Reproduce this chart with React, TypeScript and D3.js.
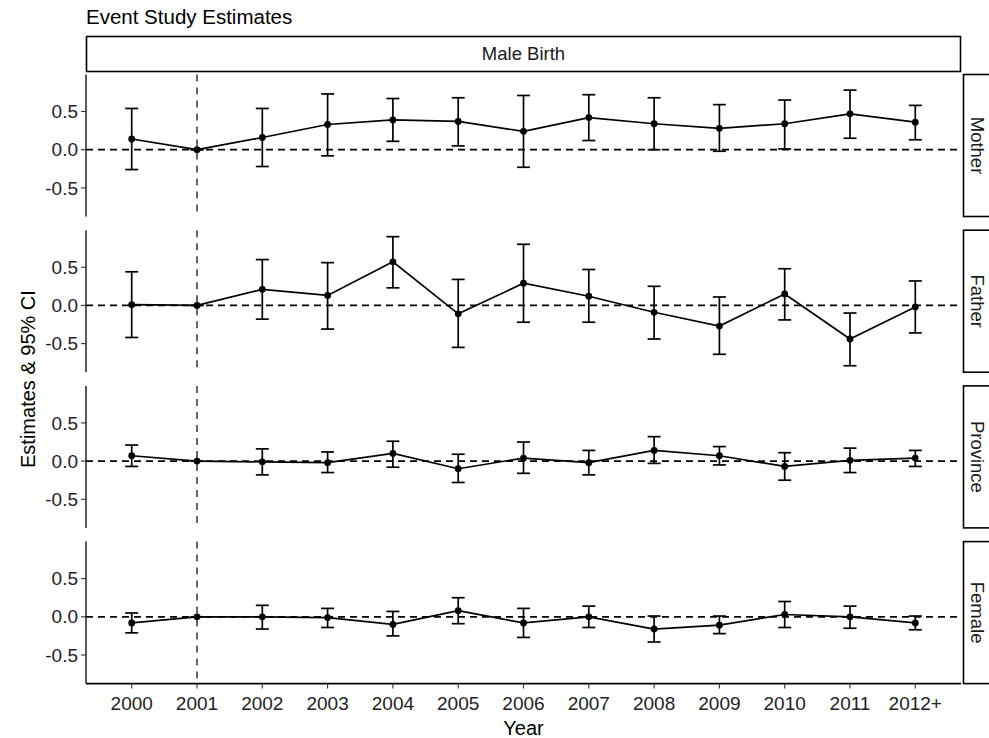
import React, { useRef, useEffect } from "react"
import * as d3 from "d3"

// categories
const years = ["2000", "2001", "2002", "2003", "2004", "2005", "2006", "2007", "2008", "2009", "2010", "2011", "2012+"]
const panels = ["Mother", "Father", "Province", "Female"]
const yTicks = [-0.5, 0, 0.5]

// estimates and 95% CI bounds
const motherEst = [0.14, 0, 0.16, 0.33, 0.39, 0.37, 0.24, 0.42, 0.34, 0.28, 0.34, 0.47, 0.36]
const motherLo = [-0.26, 0, -0.22, -0.08, 0.11, 0.05, -0.23, 0.12, 0.0, -0.02, 0.01, 0.15, 0.13]
const motherHi = [0.54, 0, 0.54, 0.73, 0.67, 0.68, 0.71, 0.72, 0.68, 0.59, 0.65, 0.78, 0.58]

const fatherEst = [0.01, 0, 0.21, 0.13, 0.57, -0.11, 0.29, 0.12, -0.09, -0.27, 0.15, -0.44, -0.02]
const fatherLo = [-0.42, 0, -0.18, -0.31, 0.23, -0.55, -0.22, -0.22, -0.44, -0.64, -0.19, -0.79, -0.36]
const fatherHi = [0.44, 0, 0.6, 0.56, 0.9, 0.34, 0.8, 0.47, 0.25, 0.11, 0.48, -0.1, 0.32]

const provinceEst = [0.07, 0, -0.01, -0.02, 0.1, -0.1, 0.04, -0.02, 0.14, 0.07, -0.07, 0.01, 0.04]
const provinceLo = [-0.07, 0, -0.18, -0.15, -0.08, -0.28, -0.16, -0.18, -0.03, -0.05, -0.25, -0.15, -0.07]
const provinceHi = [0.21, 0, 0.16, 0.12, 0.26, 0.09, 0.25, 0.14, 0.32, 0.19, 0.11, 0.17, 0.14]

const femaleEst = [-0.08, 0, 0.0, -0.01, -0.1, 0.08, -0.08, 0.0, -0.16, -0.11, 0.03, 0.0, -0.08]
const femaleLo = [-0.21, 0, -0.16, -0.14, -0.25, -0.09, -0.27, -0.14, -0.33, -0.22, -0.14, -0.15, -0.17]
const femaleHi = [0.05, 0, 0.15, 0.11, 0.07, 0.25, 0.11, 0.14, 0.01, 0.01, 0.2, 0.14, 0.01]

const series = [
  { est: motherEst, lo: motherLo, hi: motherHi },
  { est: fatherEst, lo: fatherLo, hi: fatherHi },
  { est: provinceEst, lo: provinceLo, hi: provinceHi },
  { est: femaleEst, lo: femaleLo, hi: femaleHi },
]

const FONT = "'Liberation Sans', Arial, Helvetica, sans-serif"

export default function App() {
  const el = useRef<SVGSVGElement>(null)

  useEffect(function () {
    const W = 989
    const H = 738
    const left = 86
    const right = 961
    const panelTop = 74.5
    const panelH = 142
    const panelStep = 155.7

    const svg = d3.select(el.current)
    svg.selectAll("*").remove()
    svg.attr("width", W).attr("height", H)

    svg.append("rect").attr("width", W).attr("height", H).attr("fill", "white")

    const x = d3.scalePoint<string>().domain(years).range([left, right]).padding(0.7)

    // shared y domain, with ggplot's 5% expansion
    const allVals = series.flatMap(s => [...s.lo, ...s.hi, ...s.est])
    const [mn, mx] = d3.extent(allVals) as [number, number]
    const pad = (mx - mn) * 0.05

    // title
    svg.append("text")
      .attr("x", left).attr("y", 24)
      .attr("font-family", FONT).attr("font-size", 20.5)
      .attr("fill", "#000")
      .text("Event Study Estimates")

    // top strip
    svg.append("rect")
      .attr("x", left + 0.5).attr("y", 36.5)
      .attr("width", right - left - 1).attr("height", 35)
      .attr("fill", "white").attr("stroke", "#000").attr("stroke-width", 1.6)
    svg.append("text")
      .attr("x", (left + right) / 2).attr("y", 54)
      .attr("dy", "0.35em")
      .attr("text-anchor", "middle")
      .attr("font-family", FONT).attr("font-size", 18.5)
      .attr("fill", "#1a1a1a")
      .text("Male Birth")

    panels.forEach((name, i) => {
      const top = panelTop + i * panelStep
      const bottom = top + panelH
      const y = d3.scaleLinear().domain([mn - pad, mx + pad]).range([bottom, top])
      const s = series[i]
      const g = svg.append("g")

      // reference lines
      g.append("line")
        .attr("x1", left).attr("x2", right)
        .attr("y1", y(0)).attr("y2", y(0))
        .attr("stroke", "#000").attr("stroke-width", 1.8)
        .attr("stroke-dasharray", "7,5")
      g.append("line")
        .attr("x1", x("2001")!).attr("x2", x("2001")!)
        .attr("y1", top).attr("y2", bottom)
        .attr("stroke", "#000").attr("stroke-width", 1.2)
        .attr("stroke-dasharray", "7,6")

      // connecting line
      const line = d3.line<number>()
        .x((_, j) => x(years[j])!)
        .y(d => y(d))
      g.append("path")
        .attr("d", line(s.est))
        .attr("fill", "none").attr("stroke", "#000").attr("stroke-width", 1.7)

      // error bars
      const capW = 6.5
      years.forEach((yr, j) => {
        const cx = x(yr)!
        g.append("line")
          .attr("x1", cx).attr("x2", cx)
          .attr("y1", y(s.lo[j])).attr("y2", y(s.hi[j]))
          .attr("stroke", "#000").attr("stroke-width", 1.7)
        ;[s.lo[j], s.hi[j]].forEach(v => {
          g.append("line")
            .attr("x1", cx - capW).attr("x2", cx + capW)
            .attr("y1", y(v)).attr("y2", y(v))
            .attr("stroke", "#000").attr("stroke-width", 1.7)
        })
      })

      // points
      g.selectAll("circle.pt").data(s.est).enter()
        .append("circle")
        .attr("cx", (_, j) => x(years[j])!)
        .attr("cy", d => y(d))
        .attr("r", 3.4)
        .attr("fill", "#000")

      // left axis
      g.append("line")
        .attr("x1", left).attr("x2", left)
        .attr("y1", top).attr("y2", bottom)
        .attr("stroke", "#000").attr("stroke-width", 1.3)
      yTicks.forEach(t => {
        g.append("line")
          .attr("x1", left - 5).attr("x2", left)
          .attr("y1", y(t)).attr("y2", y(t))
          .attr("stroke", "#333").attr("stroke-width", 1.1)
        g.append("text")
          .attr("x", left - 8).attr("y", y(t))
          .attr("dy", "0.35em")
          .attr("text-anchor", "end")
          .attr("font-family", FONT).attr("font-size", 19)
          .attr("fill", "#222")
          .text(d3.format(".1f")(t).replace("−", "-"))
      })

      // right strip
      g.append("rect")
        .attr("x", 963.5).attr("y", top)
        .attr("width", 40).attr("height", panelH)
        .attr("fill", "white").attr("stroke", "#000").attr("stroke-width", 1.6)
      g.append("text")
        .attr("transform", `translate(${977},${(top + bottom) / 2}) rotate(90)`)
        .attr("dy", "0.35em")
        .attr("text-anchor", "middle")
        .attr("font-family", FONT).attr("font-size", 18.5)
        .attr("fill", "#1a1a1a")
        .text(name)

      // bottom axis on last panel
      if (i === panels.length - 1) {
        g.append("line")
          .attr("x1", left).attr("x2", right)
          .attr("y1", bottom).attr("y2", bottom)
          .attr("stroke", "#000").attr("stroke-width", 1.6)
        years.forEach(yr => {
          g.append("line")
            .attr("x1", x(yr)!).attr("x2", x(yr)!)
            .attr("y1", bottom).attr("y2", bottom + 5)
            .attr("stroke", "#333").attr("stroke-width", 1.1)
          g.append("text")
            .attr("x", x(yr)!).attr("y", bottom + 20)
            .attr("dy", "0.35em")
            .attr("text-anchor", "middle")
            .attr("font-family", FONT).attr("font-size", 19)
            .attr("fill", "#222")
            .text(yr)
        })
      }
    })

    // axis titles
    svg.append("text")
      .attr("x", (left + right) / 2).attr("y", 735)
      .attr("text-anchor", "middle")
      .attr("font-family", FONT).attr("font-size", 20)
      .attr("fill", "#000")
      .text("Year")
    svg.append("text")
      .attr("transform", `translate(${35},${panelTop + (3 * panelStep + panelH) / 2}) rotate(-90)`)
      .attr("text-anchor", "middle")
      .attr("font-family", FONT).attr("font-size", 20)
      .attr("fill", "#000")
      .text("Estimates & 95% CI")
  }, [])

  return <svg ref={el} style={{ position: "absolute", left: 0, top: 0, display: "block" }} />
}
